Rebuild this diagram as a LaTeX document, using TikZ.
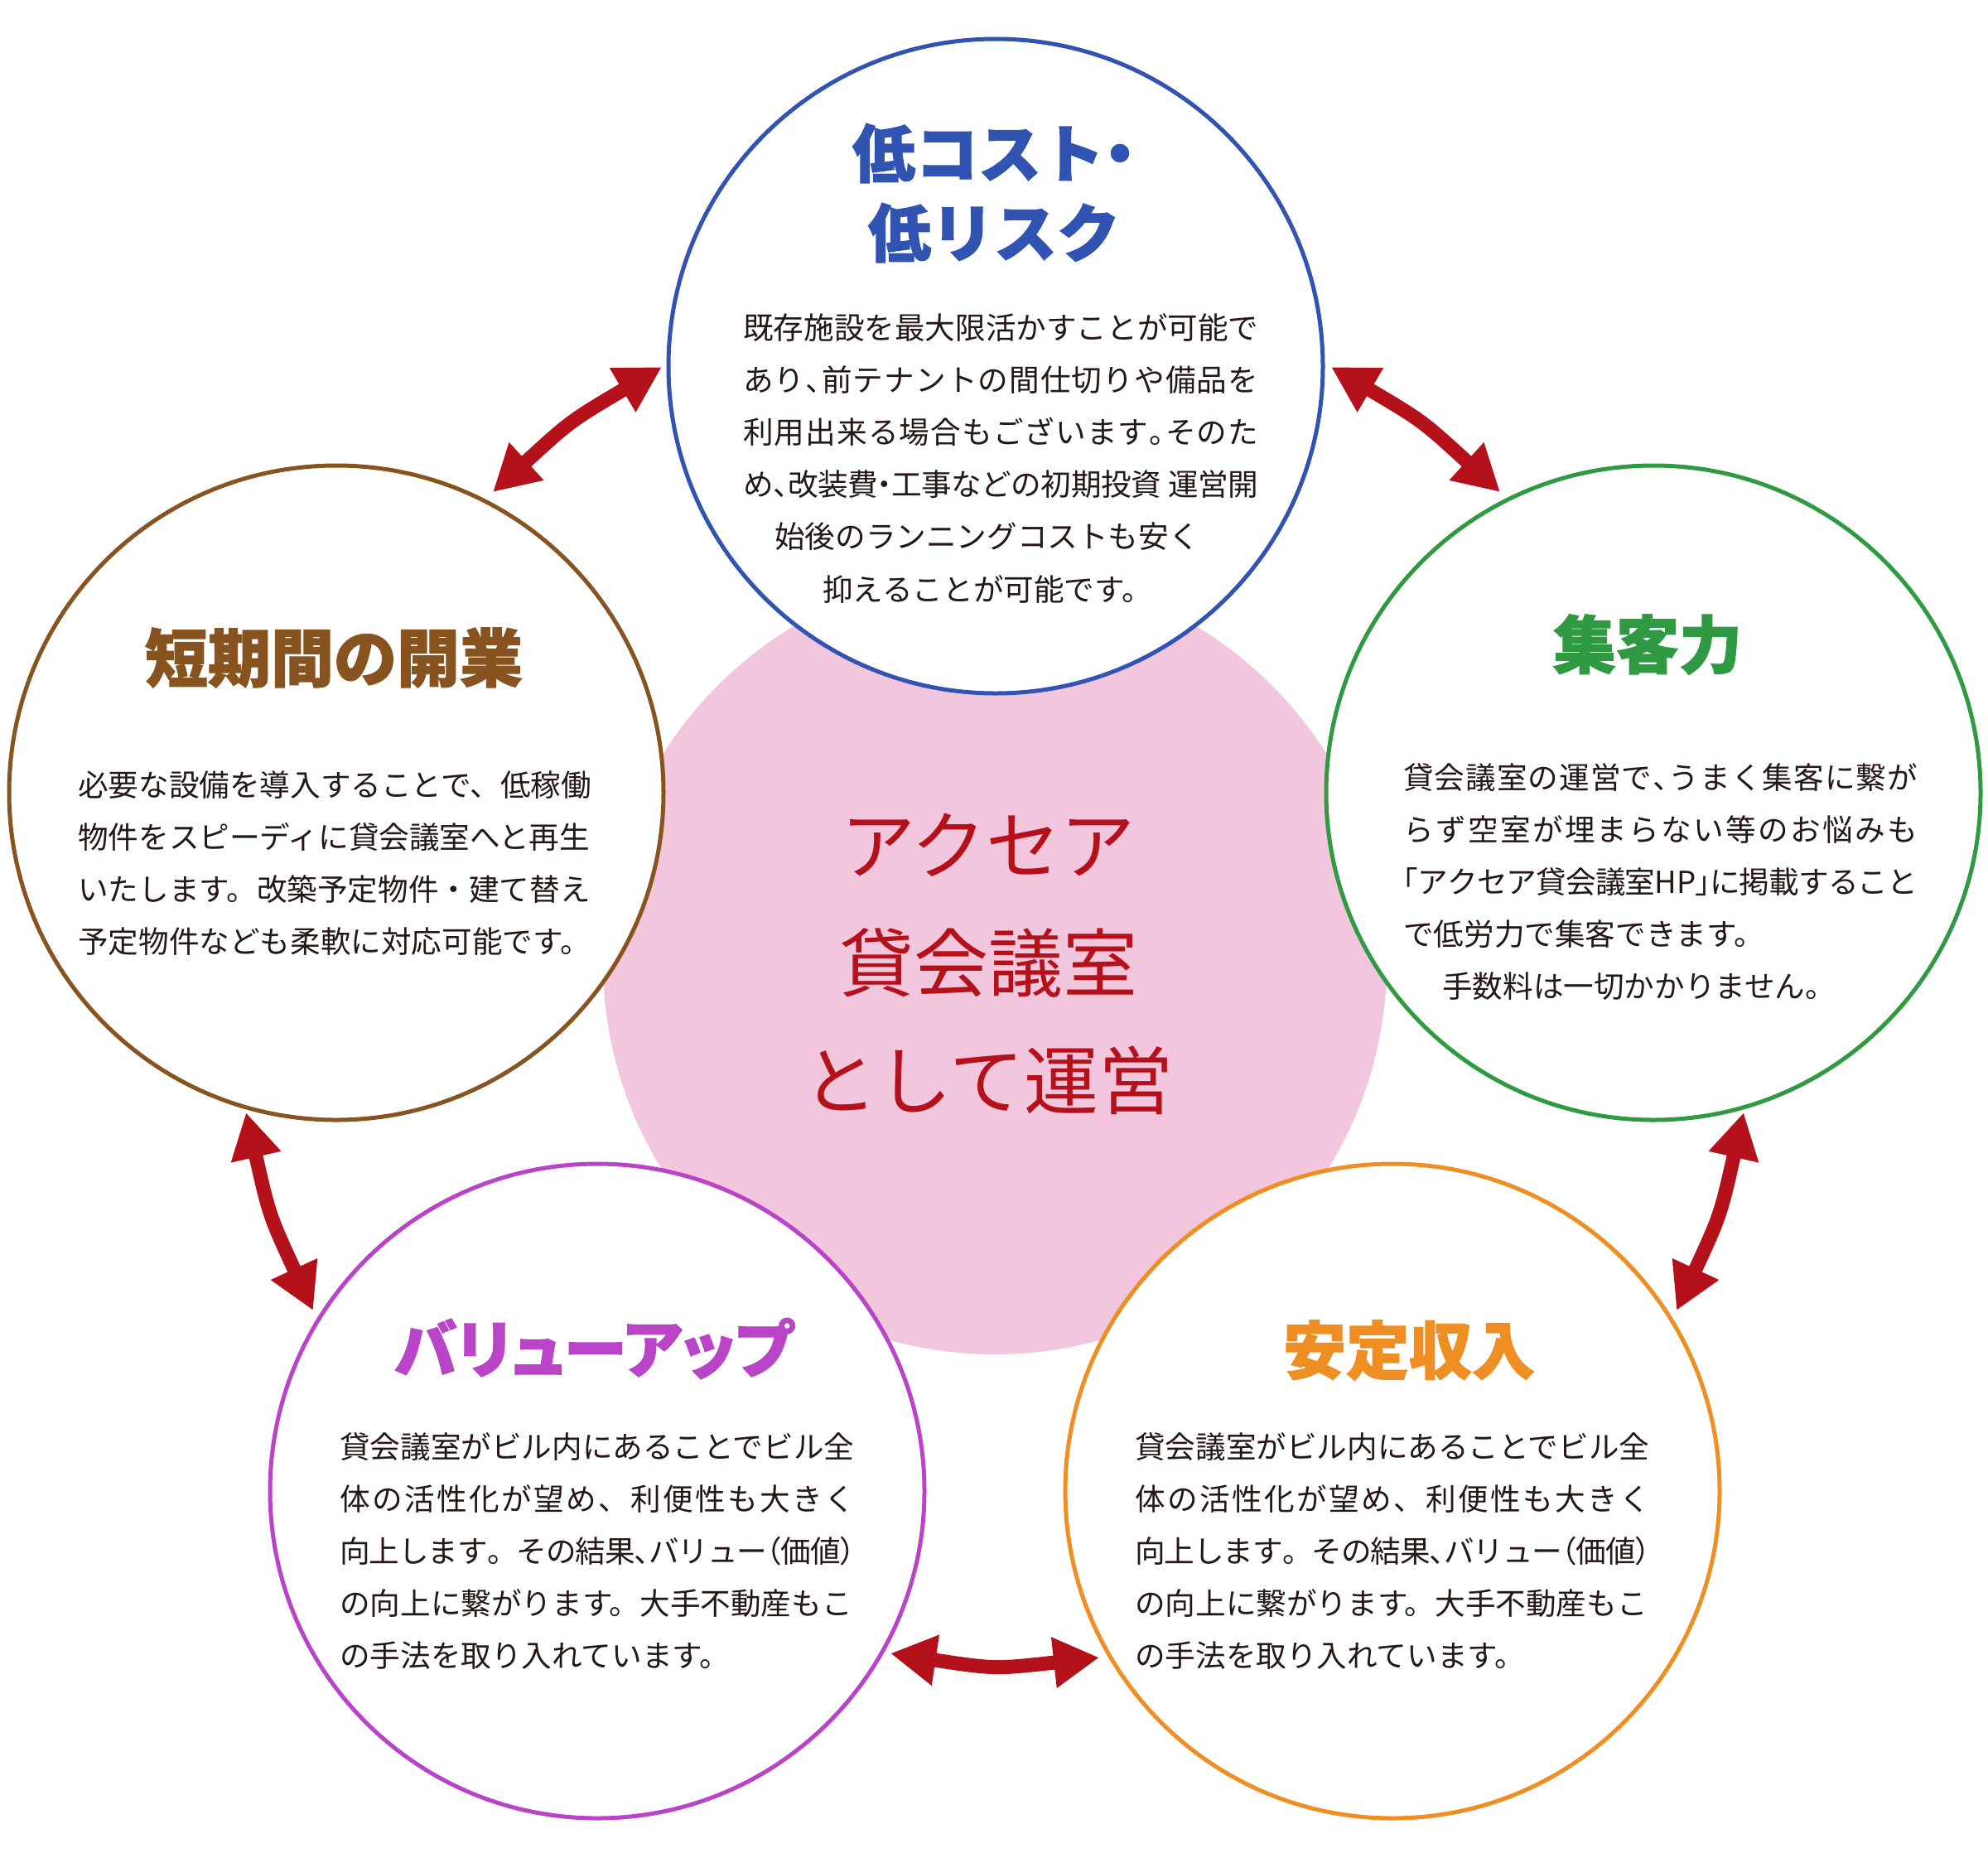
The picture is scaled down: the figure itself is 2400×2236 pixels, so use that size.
\documentclass[tikz,border=0pt]{standalone}
\usepackage{fontspec}
\usetikzlibrary{arrows.meta}
\newfontfamily\jp{Noto Sans CJK JP}
\newfontfamily\jpt[BoldFeatures={FakeBold=1.6}]{Noto Sans CJK JP}
\newfontfamily\jptp[BoldFeatures={FakeBold=1.6},RawFeature=+palt]{Noto Sans CJK JP}
\definecolor{cblue}{HTML}{3153B1}
\definecolor{cbrown}{HTML}{875420}
\definecolor{cgreen}{HTML}{2F9A42}
\definecolor{cpurple}{HTML}{BA44C7}
\definecolor{corange}{HTML}{EF8F23}
\definecolor{cred}{HTML}{B5111B}
\definecolor{cpink}{HTML}{F2C6DC}
\definecolor{ctext}{HTML}{231815}
\newcommand\hwl[1]{\makebox[0.5em][l]{#1}}
\newcommand\hwc[1]{\makebox[0.5em][c]{#1}}
\newcommand\hwr[1]{\makebox[0.5em][r]{#1}}
\makeatletter
\def\jl@endtest{\jl@end}
\newcommand\jl[2]{\leavevmode\hbox to #1{\jl@first#2\jl@end}}
\def\jl@first#1{#1\jl@a}
\def\jl@a#1{\def\jl@tmp{#1}\ifx\jl@tmp\jl@endtest\else\hskip0pt plus1fil minus3pt #1\expandafter\jl@a\fi}
\makeatother
\begin{document}
\begin{tikzpicture}[x=1pt,y=-1pt,
  bubble/.style={circle, minimum size=790pt, inner sep=0pt, fill=white, line width=5pt},
  title/.style={font=\jpt\bfseries\fontsize{76pt}{96pt}\selectfont, align=center, inner sep=0pt},
  body/.style={font=\jp\fontsize{36.6pt}{63.2pt}\selectfont, text=ctext, align=left, text width=660pt, inner sep=0pt, anchor=base west},
  biarrow/.style={draw=cred, line width=17pt, arrows={Triangle[length=55pt,width=58pt]-Triangle[length=55pt,width=58pt]}}]
\useasboundingbox (0,0) rectangle (2400,2236);
\fill[white] (0,0) rectangle (2400,2236);
% central disc
\node[circle, fill=cpink, minimum size=946pt, inner sep=0pt] (core) at (1201,1162) {};
% five circles
\node[bubble, draw=cblue] (low) at (1202,442) {};
\node[bubble, draw=cbrown] (short) at (406,957) {};
\node[bubble, draw=cgreen] (attract) at (1996,957) {};
\node[bubble, draw=cpurple] (value) at (721,1800) {};
\node[bubble, draw=corange] (income) at (1681,1800) {};
% arrow end points
\coordinate (a1s) at (595,594);  \coordinate (a1c) at (689,508);  \coordinate (a1e) at (799,443);
\coordinate (a2s) at (1607,443); \coordinate (a2c) at (1717,508); \coordinate (a2e) at (1811,594);
\coordinate (a3s) at (297,1343); \coordinate (a3c) at (325,1467); \coordinate (a3e) at (378,1582);
\coordinate (a4s) at (2105,1343);\coordinate (a4c) at (2077,1467);\coordinate (a4e) at (2024,1582);
\coordinate (a5s) at (1075,1996);\coordinate (a5c) at (1201,2015);\coordinate (a5e) at (1327,2001);
\draw[biarrow] (a1s) .. controls (a1c) .. (a1e);
\draw[biarrow] (a2s) .. controls (a2c) .. (a2e);
\draw[biarrow] (a3s) .. controls (a3c) .. (a3e);
\draw[biarrow] (a4s) .. controls (a4c) .. (a4e);
\draw[biarrow] (a5s) .. controls (a5c) .. (a5e);
% centre text
\node[font=\jp\fontsize{90pt}{142pt}\selectfont, text=cred, align=center, inner sep=0pt] (coretext) at (1193,1164) {アクセア\\貸会議室\\として運営};
% titles
\node[title, text=cblue] (lowtitle) at (1200,233) {低コスト\hwc{・}\\低リスク};
\node[title, text=cbrown] (shorttitle) at (403,794) {短期間の開業};
\node[title, text=cgreen] (attracttitle) at (1989,778) {集客力};
\node[title, font=\jptp\bfseries\fontsize{76pt}{96pt}\selectfont, text=cpurple] (valuetitle) at (717,1628) {バリューアップ};
\node[title, text=corange] (incometitle) at (1701,1630) {安定収入};
% body texts
\node[body] (lowtext) at (897,409) {既存施設を最大限活かすことが可能で\\
\jl{622pt}{あり{\hwl{、}}前テナントの間仕切りや備品を}\\
\jl{622pt}{利用出来る場合もございます{\hwl{。}}そのた}\\
\jl{622pt}{め{\hwl{、}}改装費{\hwc{・}}工事などの初期投資{\kern10pt}運営開}\\
\hspace*{38pt}始後のランニングコストも安く\\
\hspace*{96pt}抑えることが可能です。};
\node[body] (shorttext) at (94,961) {必要な設備を導入することで、低稼働\\
物件をスピーディに貸会議室へと再生\\
いたします。改築予定物件・建て替え\\
予定物件なども柔軟に対応可能です。};
\node[body] (attracttext) at (1694,952) {\jl{621pt}{貸会議室の運営で{\hwl{、}}うまく集客に繋が}\\
\jl{621pt}{らず空室が埋まらない等のお悩みも}\\
\jl{621pt}{{\hwr{「}}アクセア貸会議室{HP}{\hwl{」}}に掲載すること}\\
で低労力で集客できます。\\
\hspace*{47pt}手数料は一切かかりません。};
\node[body] (valuetext) at (410,1760) {貸会議室がビル内にあることでビル全\\
\jl{622pt}{体の活性化が望め、利便性も大きく}\\
\jl{622pt}{向上します。その結果{\hwl{、}}バリュー{\hwr{（}}価値{\hwl{）}}}\\
の向上に繋がります。大手不動産もこ\\
の手法を取り入れています。};
\node[body] (incometext) at (1370,1760) {貸会議室がビル内にあることでビル全\\
\jl{622pt}{体の活性化が望め、利便性も大きく}\\
\jl{622pt}{向上します。その結果{\hwl{、}}バリュー{\hwr{（}}価値{\hwl{）}}}\\
の向上に繋がります。大手不動産もこ\\
の手法を取り入れています。};
\end{tikzpicture}
\end{document}
